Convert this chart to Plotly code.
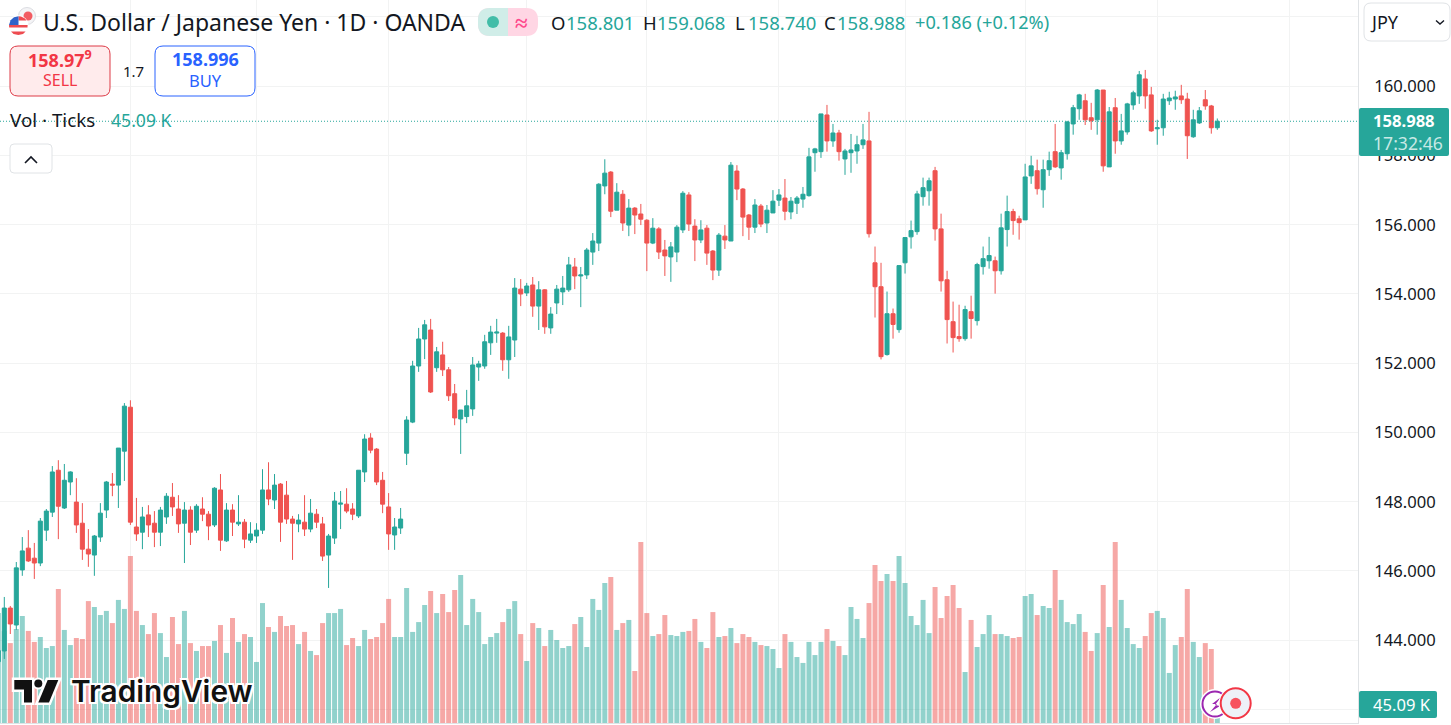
import plotly.graph_objects as go

# --- daily candles, first one is cut off by the left edge ---
opens = [
    143.38, 143.69, 144.93, 144.44, 146.03, 146.66, 146.37, 146.23, 147.18, 147.70,
    148.91, 147.82, 148.57, 147.99, 147.38, 146.63, 146.46, 146.98, 147.76, 148.51,
    148.48, 149.46, 150.73, 147.27, 147.12, 147.62, 147.38, 147.12, 147.56, 148.13,
    147.79, 147.38, 147.76, 147.18, 147.79, 147.64, 147.33, 148.34, 146.87, 147.76,
    147.36, 147.41, 146.89, 147.01, 147.18, 148.34, 148.05, 148.51, 148.19, 147.50,
    147.36, 147.41, 147.21, 147.64, 147.36, 146.46, 146.95, 147.93, 147.93, 147.79,
    147.59, 148.86, 149.84, 149.52, 148.62, 147.85, 147.04, 147.24, 149.40, 150.30,
    151.92, 152.70, 152.96, 151.87, 152.24, 151.81, 151.12, 150.39, 150.46, 150.68,
    151.89, 151.92, 152.59, 152.87, 152.87, 152.10, 152.67, 154.14, 154.03, 154.26,
    153.65, 154.12, 153.02, 153.74, 154.06, 154.12, 154.78, 154.52, 154.55, 155.21,
    155.47, 157.12, 157.52, 156.42, 156.88, 155.99, 156.48, 156.31, 156.13, 155.47,
    155.88, 155.27, 155.07, 155.21, 155.85, 156.86, 155.96, 155.56, 155.90, 155.24,
    154.69, 155.67, 155.53, 157.55, 157.03, 156.28, 155.93, 156.54, 156.05, 156.34,
    156.71, 156.77, 156.37, 156.62, 156.74, 156.84, 158.08, 158.11, 159.17, 158.42,
    158.65, 157.90, 158.08, 158.13, 158.31, 158.42, 154.90, 154.21, 152.25, 153.43,
    152.97, 154.90, 155.65, 155.80, 156.81, 156.98, 157.56, 155.88, 154.41, 153.20,
    152.77, 152.71, 153.49, 153.23, 154.79, 154.96, 154.96, 154.67, 155.86, 156.38,
    156.17, 156.14, 157.41, 157.56, 157.01, 157.59, 158.11, 157.64, 158.05, 158.91,
    159.35, 159.58, 159.09, 159.03, 159.89, 157.67, 159.38, 158.42, 158.68, 159.46,
    159.72, 160.21, 159.75, 158.77, 158.80, 159.58, 159.63, 159.72, 159.63, 158.54,
    158.94, 159.61, 159.43, 158.801,
]
highs = [
    143.75, 145.25, 144.99, 146.26, 146.98, 147.18, 146.81, 147.53, 147.79, 149.03,
    149.20, 149.09, 148.88, 148.68, 147.96, 147.21, 147.04, 147.96, 148.60, 148.83,
    149.55, 150.85, 150.93, 148.11, 147.85, 147.90, 147.73, 147.85, 148.25, 148.54,
    148.19, 147.99, 147.87, 147.93, 148.13, 147.73, 148.42, 148.80, 147.96, 147.93,
    148.19, 147.50, 147.41, 147.38, 148.94, 149.14, 148.80, 148.54, 148.60, 147.59,
    147.64, 148.19, 148.08, 147.79, 147.56, 147.07, 148.28, 148.31, 148.39, 147.96,
    148.91, 149.95, 149.98, 149.55, 148.86, 148.25, 147.53, 147.82, 150.47, 152.07,
    153.02, 153.25, 153.28, 152.47, 152.62, 151.89, 151.40, 150.65, 151.23, 152.18,
    152.07, 152.82, 153.08, 153.28, 152.90, 153.08, 154.46, 154.43, 154.32, 154.49,
    154.37, 154.14, 153.62, 154.26, 154.52, 155.07, 155.04, 154.78, 155.33, 155.76,
    157.20, 157.89, 157.55, 157.20, 157.00, 156.74, 156.51, 156.60, 156.16, 156.19,
    155.93, 155.56, 155.50, 155.99, 156.97, 156.94, 156.16, 156.13, 155.99, 155.27,
    155.76, 155.99, 157.81, 157.72, 157.06, 156.31, 156.74, 156.60, 156.57, 157.00,
    157.03, 157.32, 156.80, 156.83, 157.09, 158.22, 158.22, 159.20, 159.46, 158.91,
    158.74, 158.19, 158.62, 158.57, 158.91, 159.26, 155.37, 154.90, 154.07, 153.58,
    154.82, 155.63, 156.12, 156.98, 157.36, 157.36, 157.67, 156.32, 154.67, 153.78,
    153.69, 153.66, 153.95, 154.90, 155.37, 155.65, 155.08, 156.32, 156.84, 156.46,
    156.26, 157.76, 157.99, 157.88, 157.88, 158.11, 158.91, 158.16, 159.00, 159.46,
    159.78, 159.78, 159.52, 159.92, 159.89, 159.40, 159.66, 159.20, 159.52, 159.87,
    160.44, 160.47, 159.98, 159.03, 159.78, 159.84, 159.87, 160.04, 159.81, 159.32,
    159.40, 159.89, 159.46, 159.068,
]
lows = [
    143.38, 143.46, 144.18, 144.30, 145.86, 146.26, 145.77, 146.14, 146.87, 147.56,
    146.92, 147.79, 148.19, 147.10, 146.32, 146.12, 145.86, 146.84, 147.53, 148.16,
    147.82, 148.60, 147.33, 146.87, 146.63, 146.98, 146.69, 146.72, 147.36, 147.59,
    147.10, 146.23, 146.75, 147.10, 147.44, 146.89, 147.27, 146.58, 146.84, 147.01,
    147.30, 146.66, 146.81, 146.81, 147.07, 147.90, 147.79, 146.84, 147.36, 146.32,
    147.12, 147.01, 147.12, 147.24, 146.29, 145.51, 146.78, 147.21, 147.67, 147.47,
    147.53, 148.57, 149.40, 148.48, 147.67, 146.61, 146.61, 147.07, 149.06, 150.27,
    151.75, 152.12, 151.14, 151.75, 151.63, 150.91, 150.21, 149.38, 150.27, 150.48,
    151.49, 151.84, 152.24, 152.59, 151.78, 151.55, 152.18, 153.65, 153.94, 153.34,
    152.96, 152.85, 152.85, 153.42, 153.68, 154.06, 154.14, 153.62, 154.43, 154.84,
    155.24, 156.88, 156.22, 156.42, 155.82, 155.67, 155.73, 155.99, 154.66, 155.44,
    155.01, 154.52, 154.35, 154.92, 155.76, 155.82, 154.95, 155.47, 154.84, 154.40,
    154.52, 155.30, 155.53, 156.71, 155.67, 155.56, 155.76, 155.93, 155.76, 156.34,
    156.54, 156.13, 156.16, 156.31, 156.49, 156.81, 157.53, 157.93, 158.11, 158.25,
    157.85, 157.44, 157.50, 157.76, 158.19, 155.63, 153.32, 152.11, 152.22, 152.71,
    152.88, 154.59, 155.31, 155.71, 156.55, 156.55, 155.54, 154.07, 152.57, 152.31,
    152.62, 152.65, 152.71, 153.09, 154.56, 154.73, 154.01, 154.56, 155.37, 155.71,
    155.57, 156.14, 157.18, 156.87, 156.49, 157.41, 157.64, 157.30, 157.88, 158.60,
    159.03, 158.88, 158.74, 158.60, 157.53, 157.67, 158.05, 158.31, 158.60, 159.32,
    159.49, 159.35, 158.68, 158.31, 158.57, 159.46, 159.32, 159.49, 157.90, 158.51,
    158.91, 159.32, 158.63, 158.740,
]
closes = [
    143.70, 144.93, 144.47, 146.09, 146.58, 146.29, 146.23, 147.44, 147.73, 148.86,
    147.87, 148.62, 148.86, 147.33, 146.63, 146.49, 147.01, 147.67, 148.57, 148.48,
    149.55, 150.76, 147.41, 147.07, 147.56, 147.33, 147.12, 147.76, 148.16, 147.85,
    147.36, 147.76, 147.12, 147.87, 147.64, 147.30, 148.39, 146.89, 147.76, 147.41,
    147.41, 146.92, 147.07, 147.18, 148.34, 148.08, 148.48, 147.41, 147.50, 147.38,
    147.47, 147.21, 147.67, 147.41, 146.43, 147.01, 148.02, 147.96, 147.73, 147.64,
    148.91, 149.81, 149.49, 148.57, 147.93, 147.07, 147.27, 147.50, 150.36, 151.92,
    152.70, 153.11, 151.17, 152.33, 151.81, 151.06, 150.42, 150.65, 150.77, 151.95,
    151.98, 152.62, 152.90, 152.90, 152.10, 152.76, 154.17, 154.00, 154.23, 153.65,
    154.12, 153.05, 153.42, 154.14, 154.17, 154.84, 154.52, 154.55, 155.27, 155.53,
    157.17, 157.49, 156.39, 156.94, 156.05, 156.48, 156.28, 156.16, 155.47, 155.90,
    155.21, 155.10, 155.36, 155.93, 156.91, 156.02, 155.56, 155.85, 155.18, 154.69,
    155.70, 155.56, 157.72, 157.03, 156.22, 155.93, 156.57, 156.02, 156.42, 156.68,
    156.86, 156.39, 156.68, 156.77, 156.88, 157.96, 158.19, 159.20, 158.42, 158.65,
    158.11, 158.13, 158.16, 158.31, 158.45, 155.74, 154.21, 152.19, 153.43, 153.12,
    154.82, 155.63, 155.83, 156.89, 157.07, 157.27, 155.88, 154.38, 153.26, 152.74,
    152.71, 153.55, 153.29, 154.85, 155.02, 155.11, 154.67, 155.91, 156.38, 156.12,
    156.06, 157.38, 157.70, 157.04, 157.59, 157.85, 157.67, 158.08, 158.97, 159.38,
    159.75, 159.03, 159.00, 159.89, 157.70, 159.26, 158.42, 158.71, 159.49, 159.81,
    160.33, 159.72, 158.71, 158.80, 159.63, 159.66, 159.69, 159.61, 158.57, 159.03,
    159.29, 159.43, 158.80, 158.988,
]
# tick volume, thousands
volumes = [
    67.0, 56.0, 48.7, 57.3, 65.2, 56.1, 49.4, 52.4, 45.7, 46.9,
    81.7, 56.7, 47.5, 51.8, 51.2, 74.3, 70.7, 65.8, 68.3, 60.9,
    75.0, 69.5, 101.8, 68.3, 59.7, 54.2, 67.0, 54.8, 40.2, 64.6,
    48.1, 68.3, 48.7, 43.9, 46.9, 46.9, 50.0, 59.7, 42.7, 64.0,
    49.4, 54.2, 52.4, 37.2, 73.1, 58.5, 55.5, 65.2, 59.1, 59.7,
    48.1, 55.5, 43.9, 41.4, 60.9, 67.0, 67.0, 69.5, 47.5, 51.8,
    46.9, 56.7, 51.2, 52.4, 60.9, 75.6, 52.4, 52.4, 82.3, 55.5,
    61.5, 71.9, 80.4, 67.0, 78.6, 67.6, 81.0, 90.2, 59.7, 75.6,
    67.6, 48.1, 52.4, 54.8, 61.5, 69.5, 74.3, 54.2, 37.8, 60.9,
    57.9, 46.9, 56.7, 50.6, 45.7, 46.9, 60.3, 64.6, 46.3, 75.6,
    68.9, 85.3, 89.0, 56.7, 60.9, 62.8, 31.7, 110.3, 67.0, 53.0,
    54.2, 65.8, 53.6, 53.0, 55.5, 56.1, 63.4, 49.4, 45.7, 67.6,
    52.4, 53.0, 57.9, 48.7, 54.2, 52.4, 49.4, 47.5, 46.9, 45.1,
    33.5, 54.2, 49.4, 40.2, 36.6, 49.4, 41.4, 49.4, 57.3, 50.0,
    46.9, 41.4, 70.7, 63.4, 51.8, 73.1, 96.3, 86.5, 90.8, 86.5,
    101.8, 85.3, 65.2, 59.7, 75.0, 54.8, 82.9, 64.0, 77.4, 84.1,
    70.1, 31.1, 62.8, 46.3, 54.2, 65.8, 54.2, 54.2, 53.0, 51.8,
    52.4, 77.4, 78.6, 65.8, 71.3, 70.1, 93.2, 75.0, 61.5, 60.3,
    66.4, 55.5, 43.9, 54.8, 84.1, 58.5, 110.3, 75.0, 57.9, 48.1,
    45.7, 53.0, 67.0, 68.3, 64.0, 30.5, 47.5, 52.4, 81.6, 49.4,
    40.2, 48.7, 45.1, 8.0,
]
assert len(opens) == len(highs) == len(lows) == len(closes) == len(volumes)

days = list(range(-1, len(opens) - 1))
month_starts = [21, 42, 64, 87, 107, 129, 150, 170, 192, 214]
price_ticks = [144, 146, 148, 150, 152, 154, 156, 158, 160]
price_labels = ["144.000", "146.000", "148.000", "150.000", "152.000",
                "154.000", "156.000", "158.000", "160.000"]
unlabelled_grid = [142, 162]
last_price = closes[-1]

UP = "#26a69a"
DOWN = "#ef5350"
INK = "#131722"
BORDER = "#e0e3e6"
GRID = "#f2f3f3"
FONT = "Noto Sans"

WIDTH, HEIGHT = 1451, 725
PLOT_W, PLOT_H = 1358, 723


def px(x):
    return x / PLOT_W


def py(y):
    return 1 - y / PLOT_H


annotations = []
shapes = []


def text(s, x, y, size=16, color=INK, anchor="left", weight=None, shadow=None, family=FONT):
    font = dict(family=family, size=size, color=color)
    if weight:
        font["weight"] = weight
    if shadow:
        font["shadow"] = shadow
    annotations.append(dict(
        text=s, x=px(x), y=py(y), xref="paper", yref="paper",
        xanchor=anchor, yanchor="middle", showarrow=False, font=font,
        borderpad=0,
    ))


def box(x0, y0, x1, y1, fill, line=None, r=0, width=1):
    # rounded rectangle in page pixels
    if r:
        path = (f"M {px(x0 + r)} {py(y0)} L {px(x1 - r)} {py(y0)} "
                f"Q {px(x1)} {py(y0)} {px(x1)} {py(y0 + r)} L {px(x1)} {py(y1 - r)} "
                f"Q {px(x1)} {py(y1)} {px(x1 - r)} {py(y1)} L {px(x0 + r)} {py(y1)} "
                f"Q {px(x0)} {py(y1)} {px(x0)} {py(y1 - r)} L {px(x0)} {py(y0 + r)} "
                f"Q {px(x0)} {py(y0)} {px(x0 + r)} {py(y0)} Z")
        shapes.append(dict(type="path", path=path, xref="paper", yref="paper", fillcolor=fill,
                           line=dict(color=line or fill, width=width if line else 0), layer="above"))
    else:
        shapes.append(dict(type="rect", x0=px(x0), x1=px(x1), y0=py(y0), y1=py(y1), xref="paper", yref="paper",
                           fillcolor=fill, line=dict(color=line or fill, width=width if line else 0), layer="above"))


def circle(cx, cy, r, fill, line=None, width=1):
    shapes.append(dict(type="circle", x0=px(cx - r), x1=px(cx + r), y0=py(cy - r), y1=py(cy + r),
                       xref="paper", yref="paper", fillcolor=fill,
                       line=dict(color=line or fill, width=width if line else 0), layer="above"))


def poly(points, fill=None, line=None, width=1):
    path = "M " + " L ".join(f"{px(a)} {py(b)}" for a, b in points)
    if fill:
        path += " Z"
    shapes.append(dict(type="path", path=path, xref="paper", yref="paper",
                       fillcolor=fill or "rgba(0,0,0,0)",
                       line=dict(color=line or "rgba(0,0,0,0)", width=width if line else 0), layer="above"))


fig = go.Figure()

# volume sits on the lower axis so the candles draw over it
fig.add_trace(go.Bar(
    x=days, y=volumes, yaxis="y",
    marker=dict(color=[UP if c >= o else DOWN for o, c in zip(opens, closes)], line_width=0),
    opacity=0.5, hoverinfo="skip", showlegend=False,
))
fig.add_trace(go.Candlestick(
    x=days, open=opens, high=highs, low=lows, close=closes, yaxis="y2",
    increasing=dict(line=dict(color=UP, width=1), fillcolor=UP),
    decreasing=dict(line=dict(color=DOWN, width=1), fillcolor=DOWN),
    whiskerwidth=0, showlegend=False,
))

# last price line
shapes.append(dict(type="line", xref="paper", yref="y2", x0=0, x1=1, y0=last_price, y1=last_price,
                   line=dict(color=UP, width=1, dash="1px,2px"), layer="above"))

# header: flag
circle(27, 16, 8.5, "#f4f4f6", "#dcdde2", 1)
circle(28, 16, 4.5, "#f25c62")
circle(18.3, 25.5, 10.2, "#ffffff")
circle(18.3, 25.5, 9.3, "#ffffff")
poly([(18.5, 20.5), (26.5, 20.5), (25, 18.5), (21, 16.5), (18.5, 16.2)], fill="#ee4b50")
poly([(9.2, 27.5), (27.5, 27.5), (27.6, 25), (9, 25)], fill="#ee4b50")
poly([(11, 31.5), (25.6, 31.5), (23, 34), (18.3, 34.9), (13.6, 34)], fill="#ee4b50")
poly([(9, 25), (18.5, 25), (18.5, 16.2), (14, 17.3), (10.6, 20.2)], fill="#2f62c9")

text("U.S. Dollar / Japanese Yen · 1D · OANDA", 42, 22, size=23)

# market status pill
box(478, 8, 538, 36, "#ffd6e4", r=12)
box(478, 8, 520, 36, "#d0ede8", r=12)
box(508, 8, 526, 36, "#ffd6e4")
circle(493, 22, 6, "#42bda8")
text("<b>≈</b>", 521, 22, size=23, color="#ff4a8d", anchor="center")

# OHLC legend
for lab, val, lx, vx in [("O", "158.801", 550, 565), ("H", "159.068", 642, 656),
                         ("L", "158.740", 734, 747), ("C", "158.988", 823, 836)]:
    text(lab, lx, 22, size=18.5)
    text(val, vx, 22, size=18.5, color=UP)
text("+0.186 (+0.12%)", 914, 22, size=18.2, color=UP)

# sell / buy buttons
box(10, 46, 110, 96, "#ffebec", "#dd3b47", r=8)
text("<b>158.97<sup>9</sup></b>", 60, 59, size=18, color="#f23645", anchor="center")
text("SELL", 60, 80, size=16, color="#f23645", anchor="center")
text("1.7", 133, 71, size=15, anchor="center")
box(155, 46, 255, 96, "#ffffff", "#2962ff", r=8)
text("<b>158.996</b>", 205, 59, size=18, color="#2962ff", anchor="center")
text("BUY", 205, 80, size=16.5, color="#2962ff", anchor="center")

# volume legend and collapse button
text("Vol · Ticks", 9, 120, size=18.8)
text("45.09 K", 110, 120, size=17.6, color=UP)
box(10, 144, 52, 173, "#ffffff", BORDER, r=4)
poly([(25, 163), (31, 157), (37, 163)], line=INK, width=1.6)

# price scale: currency selector and labels
box(1364, 3, 1450, 41, "#ffffff", BORDER, r=7)
text("JPY", 1369, 22, size=18)
poly([(1436, 20.5), (1440, 24), (1444, 20.5)], line=INK, width=1.4)
box(1359, 108, 1449, 156, UP, r=2)
text("<b>158.988</b>", 1372, 121, size=16.6, color="#ffffff")
text("17:32:46", 1372, 143, size=17.6, color="#c8e9e5")
box(1359, 691, 1437, 718, UP, r=2)
text("45.09 K", 1372, 704, size=16.6, color="#ffffff")

# watermark
halo = ",".join(f"{a}px {b}px 0 #fff" for a, b in
                [(2, 0), (-2, 0), (0, 2), (0, -2), (2, 2), (-2, -2), (2, -2), (-2, 2)])
logo_t = [(14.3, 680), (32, 680), (32, 702.5), (24, 702.5), (24, 689.5), (14.3, 689.5)]
logo_v = [(47.7, 680), (58.3, 680), (49, 702.5), (38.3, 702.5)]
poly(logo_t, fill="#ffffff", line="#ffffff", width=5)
poly(logo_v, fill="#ffffff", line="#ffffff", width=5)
circle(38.3, 683.5, 6, "#ffffff")
poly(logo_t, fill="#111111")
poly(logo_v, fill="#111111")
circle(38.3, 683.5, 4, "#111111")
text("TradingView", 70, 691, size=29.8, color="#111111", weight=600, shadow=halo, family="Inter")

# corner badges
circle(1215, 704, 15, "#ffffff")
circle(1215, 704, 12.5, "#ffffff", "#9c27b0", 2)
poly([(1221, 697), (1212, 704), (1217, 704), (1210, 712), (1220, 706), (1215, 705)], fill="#9c27b0")
circle(1235.7, 703.3, 17, "#ffffff")
circle(1235.7, 703.3, 15, "#eef1f8", "#f23645", 2)
circle(1235.7, 703.3, 5.5, "#f7525f")

fig.update_layout(
    width=WIDTH, height=HEIGHT,
    margin=dict(l=0, r=WIDTH - PLOT_W, t=0, b=HEIGHT - PLOT_H),
    paper_bgcolor="#ffffff", plot_bgcolor="#ffffff",
    bargap=0.17, boxgap=0.33, boxgroupgap=0, dragmode=False,
    xaxis=dict(
        range=[-0.716, 225.43], rangeslider=dict(visible=False),
        tickvals=month_starts, showticklabels=False, ticks="",
        showgrid=True, gridcolor=GRID, gridwidth=1, zeroline=False,
        showline=True, linecolor=BORDER, linewidth=1,
    ),
    yaxis=dict(range=[0, 440.6], visible=False, showgrid=False, zeroline=False),
    yaxis2=dict(
        range=[141.61, 162.49], overlaying="y", side="right",
        tickvals=price_ticks, ticktext=price_labels, ticks="", ticklabelstandoff=12,
        tickfont=dict(family=FONT, size=16.6, color=INK),
        showgrid=True, gridcolor=GRID, gridwidth=1, zeroline=False,
        minor=dict(tickvals=unlabelled_grid, showgrid=True, gridcolor=GRID, gridwidth=1, ticks=""),
        showline=True, linecolor=BORDER, linewidth=1,
    ),
    annotations=annotations, shapes=shapes,
)

fig.write_html("out.html", config=dict(displayModeBar=False),
               post_script="document.body.style.margin='0';document.body.style.overflow='hidden';")
